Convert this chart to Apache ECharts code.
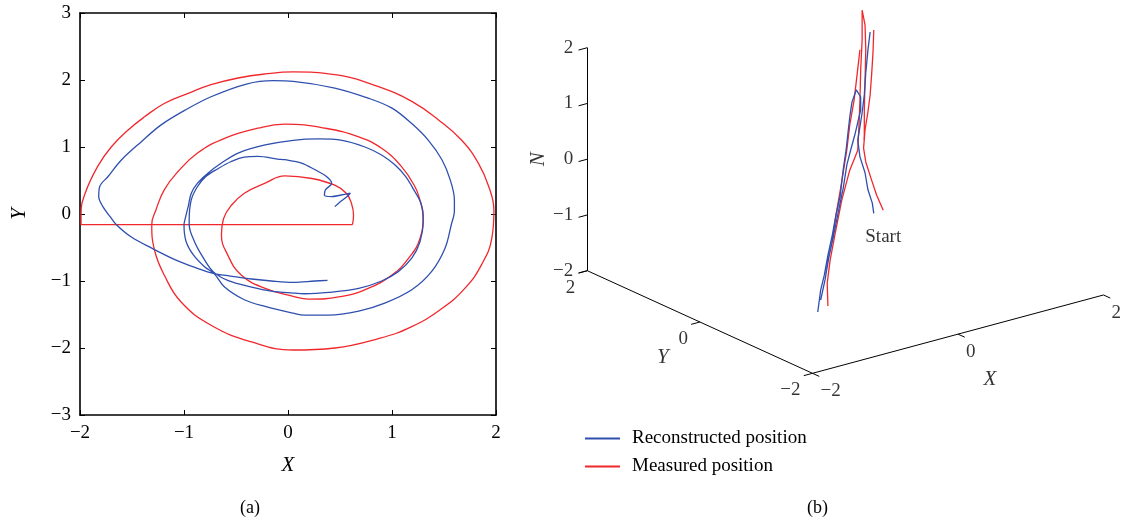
<!DOCTYPE html>
<html>
<head>
<meta charset="utf-8">
<script src="https://cdn.jsdelivr.net/npm/echarts@6/dist/echarts.min.js"></script>
<style>
html, body { margin: 0; padding: 0; background: #fff; }
#chart { width: 1122px; height: 525px; }
</style>
</head>
<body>
<div id="chart"></div>
<script>
const SERIF = '"Liberation Serif", "DejaVu Serif", serif';
const BLUE = '#2f4fae';
const RED = '#f0282d';

// ---- (a) horizontal track, [X, Y] ----
const measuredXY = [
  [0.62,-0.16],[0.63,-0.02],[0.61,0.16],[0.56,0.31],[0.45,0.43],[0.23,0.53],[-0.03,0.57],
  [-0.22,0.46],[-0.42,0.31],[-0.55,0.12],[-0.62,-0.07],[-0.64,-0.31],[-0.58,-0.61],[-0.45,-0.91],
  [-0.22,-1.11],[0.05,-1.23],[0.2,-1.27],[0.52,-1.23],[0.77,-1.11],[1.0,-0.91],[1.16,-0.66],
  [1.27,-0.36],[1.3,-0.02],[1.27,0.2],[1.22,0.41],[1.09,0.71],[0.9,0.98],[0.68,1.15],[0.36,1.28],
  [-0.03,1.34],[-0.29,1.28],[-0.61,1.13],[-0.87,0.91],[-1.06,0.63],[-1.19,0.36],[-1.27,0.06],
  [-1.31,-0.16],[-1.28,-0.56],[-1.19,-0.91],[-1.03,-1.31],[-0.74,-1.66],[-0.35,-1.91],[0.05,-2.03],
  [0.45,-2.0],[0.87,-1.86],[1.19,-1.68],[1.48,-1.41],[1.7,-1.11],[1.86,-0.76],[1.96,-0.36],
  [1.98,0.05],[1.93,0.41],[1.83,0.76],[1.67,1.1],[1.45,1.4],[1.19,1.68],[0.87,1.9],[0.45,2.08],
  [0.05,2.12],[-0.22,2.09],[-0.48,2.03],[-0.74,1.93],[-0.96,1.8],[-1.19,1.65],[-1.38,1.45],
  [-1.54,1.25],[-1.7,1.0],[-1.83,0.71],[-1.95,0.31],[-1.99,0.0],[-1.99,-0.16]
];

const reconstructedXY = [
  [0.45,0.11],[0.5,0.18],[0.56,0.25],[0.6,0.31],[0.5,0.28],[0.42,0.26],[0.35,0.28],[0.36,0.36],
  [0.42,0.46],[0.37,0.56],[0.26,0.66],[0.13,0.76],[-0.03,0.81],[-0.1,0.82],[-0.29,0.86],[-0.42,0.85],
  [-0.55,0.78],[-0.67,0.68],[-0.79,0.56],[-0.87,0.41],[-0.93,0.21],[-0.95,-0.08],[-0.95,-0.16],
  [-0.9,-0.41],[-0.82,-0.64],[-0.72,-0.86],[-0.58,-0.99],[-0.35,-1.09],[-0.16,-1.15],[0.05,-1.18],
  [0.16,-1.19],[0.39,-1.17],[0.68,-1.11],[0.9,-1.0],[1.06,-0.86],[1.19,-0.66],[1.27,-0.41],
  [1.3,-0.11],[1.28,0.15],[1.21,0.36],[1.13,0.56],[1.03,0.73],[0.9,0.88],[0.74,1.0],[0.52,1.1],
  [0.29,1.12],[0.05,1.1],[-0.22,1.03],[-0.48,0.91],[-0.64,0.76],[-0.77,0.61],[-0.87,0.46],
  [-0.93,0.31],[-0.96,0.11],[-0.99,-0.08],[-1.0,-0.16],[-0.98,-0.41],[-0.91,-0.61],[-0.8,-0.79],
  [-0.71,-0.89],[-0.61,-1.09],[-0.42,-1.28],[-0.22,-1.38],[0.05,-1.48],[0.16,-1.51],[0.39,-1.51],
  [0.68,-1.45],[0.93,-1.33],[1.19,-1.13],[1.38,-0.86],[1.51,-0.51],[1.57,-0.16],[1.6,0.05],
  [1.6,0.21],[1.56,0.51],[1.48,0.81],[1.35,1.1],[1.19,1.35],[1.0,1.58],[0.77,1.73],[0.45,1.88],
  [0.05,1.98],[-0.14,1.99],[-0.4,1.94],[-0.74,1.75],[-0.99,1.55],[-1.22,1.33],[-1.41,1.08],
  [-1.6,0.81],[-1.73,0.56],[-1.81,0.41],[-1.82,0.26],[-1.78,0.11],[-1.71,-0.04],[-1.65,-0.16],
  [-1.51,-0.34],[-1.31,-0.51],[-1.06,-0.7],[-0.87,-0.81],[-0.71,-0.89],[-0.58,-0.92],[-0.35,-0.97],
  [-0.16,-1.0],[0.05,-1.02],[0.26,-1.0],[0.38,-0.99]
];

// ---- (b) 3D track, strands of [X, Y, N] ----
const measured3D = [
  [[0.52,0,-0.88],[0.43,0,-0.58],[0.35,0,-0.24],[0.28,0,0.07],[0.25,0,0.33],[0.27,0,0.65],
   [0.31,0,0.96],[0.34,0,1.25],[0.36,0,1.6],[0.38,0,2.01],[0.39,0,2.4]],
  [[-0.24,0,-2.33],[-0.25,0,-1.92],[-0.21,0,-1.52],[-0.14,0,-1.06],[-0.05,0,-0.5],[0.06,0,0.0],
   [0.17,0,0.32],[0.19,0,0.85],[0.2,0,1.21],[0.21,0,1.74],[0.23,0,2.28],[0.23,0,2.81],
   [0.27,0,2.53],[0.28,0,2.08],[0.27,0,1.54],[0.26,0,1.01],[0.26,0,0.47]],
  [[-0.18,0,-1.17],[-0.13,0,-0.74],[-0.07,0,-0.31],[-0.02,0,0.07],[0.02,0,0.38],[0.06,0,0.81],
   [0.12,0,1.24],[0.16,0,1.67],[0.2,0,2.11]]
];

const reconstructed3D = [
  [[0.39,0,-0.89],[0.37,0,-0.7],[0.31,0,-0.44],[0.27,0,-0.12],[0.2,0,0.19],[0.17,0,0.5],
   [0.2,0,0.73],[0.23,0,0.97],[0.26,0,1.28],[0.28,0,1.67],[0.31,0,2.07],[0.34,0,2.38]],
  [[-0.38,0,-2.39],[-0.34,0,-2.01],[-0.29,0,-1.76],[-0.24,0,-1.42],[-0.18,0,-1.08],[-0.13,0,-0.74],
   [-0.07,0,-0.4],[-0.03,0,0.04],[0.01,0,0.38],[0.04,0,0.73],[0.06,0,0.95],[0.09,0,1.21],
   [0.15,0,1.41],[0.17,0,1.43],[0.21,0,1.26],[0.21,0,1.03],[0.17,0,0.82],[0.13,0,0.61],
   [0.08,0,0.39],[0.02,0,0.11],[-0.03,0,-0.29],[-0.1,0,-0.71],[-0.17,0,-1.14],[-0.23,0,-1.48],
   [-0.28,0,-1.85],[-0.34,0,-2.19]]
];

const boxTicks = [-2, 0, 2];
const heightTicks = [-2, -1, 0, 1, 2];

// ---- 3D view: orthographic projection onto the page plane ----
const view = {
  origin: [812.5, 373.3],      // (X,Y,N) = (-2,-2,-2)
  ex: [72.75, -19.58],
  ey: [-56.3, -25.65],
  en: [0, -55.75]
};
function project(p) {
  const dx = p[0] + 2, dy = p[1] + 2, dn = p[2] + 2;
  return [
    view.origin[0] + view.ex[0] * dx + view.ey[0] * dy + view.en[0] * dn,
    view.origin[1] + view.ex[1] * dx + view.ey[1] * dy + view.en[1] * dn
  ];
}

const minus = v => String(v).replace('-', '\u2212');

// axis frame of the 3D view
const frameEdges = [
  [[-2, 2, -2], [-2, 2, 2]],    // N axis
  [[-2, 2, -2], [-2, -2, -2]],  // Y axis
  [[-2, -2, -2], [2, -2, -2]]   // X axis
];
const tickSegs = [];
heightTicks.forEach(n => tickSegs.push([[-2, 2, n], [-2.12, 2, n]]));
boxTicks.forEach(y => tickSegs.push([[-2, y, -2], [-2.12, y, -2]]));
boxTicks.forEach(x => tickSegs.push([[x, -2, -2], [x, -2.12, -2]]));

const frameLines = frameEdges.concat(tickSegs).map(s => ({ coords: [project(s[0]), project(s[1])] }));

function labelItem(p3, text, offset, align, extra) {
  return {
    value: project(p3),
    name: text,
    label: Object.assign({ offset: offset, align: align }, extra || {})
  };
}
const tickLabels = []
  .concat(heightTicks.map(n => labelItem([-2, 2, n], minus(n), [-14, 0], 'right')))
  .concat(boxTicks.map(y => labelItem([-2, y, -2], minus(y), [-12, 17], 'right')))
  .concat(boxTicks.map(x => labelItem([x, -2, -2], minus(x), [8, 18], 'left')));

const axisNames = [
  labelItem([-2, 2, 0], 'N', [0, -49], 'center', { rotate: 90 }),
  labelItem([-2, 0, -2], 'Y', [-37, 35], 'center'),
  labelItem([0, -2, -2], 'X', [32, 45], 'center')
];
const startMark = [labelItem(measured3D[0][0], 'Start', [0, 27], 'center')];

const lineBase = { type: 'line', showSymbol: false, symbol: 'none', animation: false, silent: true };

const series = [
  Object.assign({}, lineBase, {
    name: 'Measured position', xAxisIndex: 0, yAxisIndex: 0, data: measuredXY, smooth: 0.45,
    lineStyle: { color: RED, width: 1.3 }, itemStyle: { color: RED }
  }),
  Object.assign({}, lineBase, {
    name: 'Measured position', xAxisIndex: 0, yAxisIndex: 0,
    data: [measuredXY[measuredXY.length - 1], measuredXY[0]],
    lineStyle: { color: RED, width: 1.3 }, itemStyle: { color: RED }
  }),
  Object.assign({}, lineBase, {
    name: 'Reconstructed position', xAxisIndex: 0, yAxisIndex: 0, data: reconstructedXY, smooth: 0.35,
    lineStyle: { color: BLUE, width: 1.3 }, itemStyle: { color: BLUE }
  }),
  {
    type: 'lines', coordinateSystem: 'cartesian2d', xAxisIndex: 2, yAxisIndex: 2,
    data: frameLines, silent: true, animation: false,
    lineStyle: { color: '#000', width: 1, opacity: 1 }
  }
];
measured3D.forEach(strand => series.push(Object.assign({}, lineBase, {
  name: 'Measured position', xAxisIndex: 2, yAxisIndex: 2, data: strand.map(project),
  lineStyle: { color: RED, width: 1.3 }, itemStyle: { color: RED }
})));
reconstructed3D.forEach(strand => series.push(Object.assign({}, lineBase, {
  name: 'Reconstructed position', xAxisIndex: 2, yAxisIndex: 2, data: strand.map(project),
  lineStyle: { color: BLUE, width: 1.3 }, itemStyle: { color: BLUE }
})));
const textSeries = (data, size, style) => ({
  type: 'scatter', xAxisIndex: 2, yAxisIndex: 2, symbolSize: 0, silent: true, animation: false,
  data: data,
  label: {
    show: true, position: 'inside', formatter: '{b}', verticalAlign: 'middle',
    color: '#000', fontFamily: SERIF, fontSize: size, fontStyle: style
  }
});
series.push(textSeries(tickLabels, 19, 'normal'));
series.push(textSeries(axisNames, 21, 'italic'));
series.push(textSeries(startMark, 19, 'normal'));

const frameAxis = (pos, isX, labels) => ({
  gridIndex: 0, type: 'value', position: pos,
  min: isX ? -2 : -3, max: isX ? 2 : 3, interval: 1,
  axisLine: { show: true, onZero: false, lineStyle: { color: '#000', width: 1.6 } },
  axisTick: { show: true, inside: true, length: 5, lineStyle: { color: '#000', width: 1 } },
  axisLabel: labels ? { show: true, formatter: minus, color: '#000', fontFamily: SERIF, fontSize: 19, margin: 9 } : { show: false },
  splitLine: { show: false }
});

const xBottom = Object.assign(frameAxis('bottom', true, true), {
  name: 'X', nameLocation: 'middle', nameGap: 40,
  nameTextStyle: { fontFamily: SERIF, fontStyle: 'italic', fontSize: 21, color: '#000' }
});
const yLeft = Object.assign(frameAxis('left', false, true), {
  name: 'Y', nameLocation: 'middle', nameGap: 50,
  nameTextStyle: { fontFamily: SERIF, fontStyle: 'italic', fontSize: 21, color: '#000' }
});

const option = {
  backgroundColor: '#fff',
  animation: false,
  grid: [
    { left: 80, top: 13, width: 416, height: 402 },
    { left: 0, top: 0, width: 1122, height: 525 }
  ],
  xAxis: [
    xBottom,
    frameAxis('top', true, false),
    { gridIndex: 1, type: 'value', min: 0, max: 1122, show: false }
  ],
  yAxis: [
    yLeft,
    frameAxis('right', false, false),
    { gridIndex: 1, type: 'value', min: 0, max: 525, inverse: true, show: false }
  ],
  legend: {
    data: ['Reconstructed position', 'Measured position'],
    orient: 'vertical', left: 585, top: 429, padding: 0,
    itemWidth: 35, itemHeight: 2, itemGap: 9,
    icon: 'rect', selectedMode: false,
    textStyle: { fontFamily: SERIF, fontSize: 19, color: '#000', padding: [0, 0, 0, 7] }
  },
  graphic: [
    { type: 'text', left: 240, top: 499, style: { text: '(a)', font: '18px ' + SERIF, fill: '#000' } },
    { type: 'text', left: 807, top: 499, style: { text: '(b)', font: '18px ' + SERIF, fill: '#000' } }
  ],
  series: series
};

const chart = echarts.init(document.getElementById('chart'));
chart.setOption(option);
</script>
</body>
</html>
